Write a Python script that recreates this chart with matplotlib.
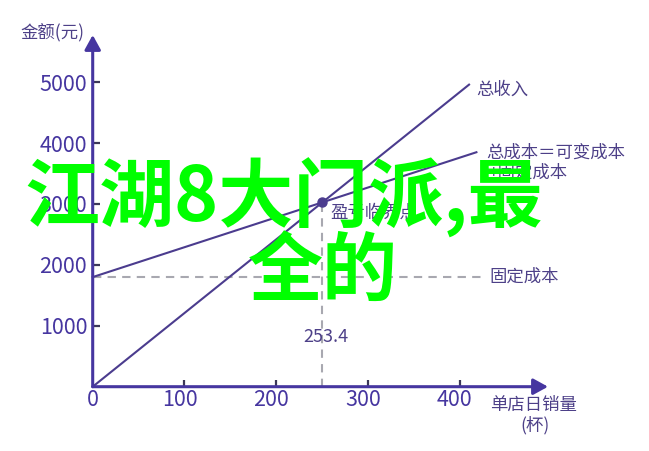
import matplotlib
matplotlib.use('Agg')
import matplotlib.pyplot as plt
import matplotlib.transforms as mtransforms

plt.rcParams['font.family'] = ['Noto Sans CJK SC', 'DejaVu Sans']

# chart values
revenue_x = [0, 410]
revenue_y = [0, 4960]
cost_x = [0, 418]
cost_y = [1800, 3850]
fixed_x = [0, 424]
fixed_y = [1800, 1800]
breakeven_x = 250
breakeven_y = 3027
breakeven_label = '253.4'
x_ticks = [0, 100, 200, 300, 400]
y_ticks = [1000, 2000, 3000, 4000, 5000]
x_max = 496
y_max = 5775

axis_color = '#4636a0'
line_color = '#4b3c8e'
text_color = '#4d4088'
dash_color = '#a8a8b0'

fig = plt.figure(figsize=(6.49, 4.51), dpi=100)
W, H = 649, 451
ax = fig.add_axes([92.7 / W, (H - 386.7) / H, (548 - 92.7) / W, (386.7 - 35) / H])
ax.set_xlim(0, x_max)
ax.set_ylim(0, y_max)
for s in ax.spines.values():
    s.set_visible(False)

# axes with arrow heads
arrow = dict(arrowstyle='-|>,head_length=0.4,head_width=0.22', color=axis_color,
             lw=2.2, mutation_scale=22, shrinkA=0, shrinkB=0)
ax.annotate('', xy=(1, 0), xytext=(0, 0), xycoords='axes fraction', arrowprops=arrow)
ax.annotate('', xy=(0, 1), xytext=(0, 0), xycoords='axes fraction', arrowprops=arrow)

ax.set_xticks(x_ticks)
ax.set_xticklabels([str(t) for t in x_ticks])
ax.set_yticks(y_ticks)
ax.set_yticklabels([str(t) for t in y_ticks])
ax.tick_params(direction='in', length=5, width=1.6, color='#3c3858',
               labelsize=15.5, labelcolor=axis_color, pad=4)
ax.tick_params(axis='x', pad=2)
# x tick labels sit a little left of their ticks, except 0
shift = mtransforms.ScaledTranslation(-5 / 100, 0, fig.dpi_scale_trans)
for lab in ax.get_xticklabels()[1:]:
    lab.set_transform(lab.get_transform() + shift)
for tk in ax.xaxis.get_major_ticks()[:1]:
    tk.tick1line.set_visible(False)

# lines
ax.plot(fixed_x, fixed_y, color=dash_color, lw=1.5, dashes=(4, 3), clip_on=False)
ax.plot([breakeven_x, breakeven_x], [0, breakeven_y], color=dash_color, lw=1.5,
        dashes=(4, 3), clip_on=False)
ax.plot(revenue_x, revenue_y, color=line_color, lw=1.5, clip_on=False)
ax.plot(cost_x, cost_y, color=line_color, lw=1.5, clip_on=False)
ax.plot(breakeven_x, breakeven_y, 'o', color=line_color, ms=6.5, clip_on=False)

def px(x, y):
    return x / W, 1 - y / H

fs = 12.5
fig.text(*px(20, 33), '金额(元)', fontsize=fs, color=text_color, ha='left', va='center')
fig.text(*px(476, 90), '总收入', fontsize=fs, color=text_color, ha='left', va='center')
fig.text(*px(486, 153), '总成本＝可变成本', fontsize=fs, color=text_color, ha='left', va='center')
fig.text(*px(488, 173), '+固定成本', fontsize=fs, color=text_color, ha='left', va='center')
fig.text(*px(489, 277), '固定成本', fontsize=fs, color=text_color, ha='left', va='center')
fig.text(*px(330, 213), '盈亏临界点', fontsize=fs, color=text_color, ha='left', va='center')
fig.text(*px(326, 337), breakeven_label, fontsize=13, color=text_color, ha='center', va='center')
fig.text(*px(533, 405), '单店日销量', fontsize=fs, color=text_color, ha='center', va='center')
fig.text(*px(535, 425), '(杯)', fontsize=fs, color=text_color, ha='center', va='center')

# overlay title
fig.text(*px(24, 198), '江湖8大门派,最', fontsize=54, color='#00ff00', fontweight='bold',
         ha='left', va='center', zorder=10)
fig.text(*px(248, 273), '全的', fontsize=54, color='#00ff00', fontweight='bold',
         ha='left', va='center', zorder=10)

fig.savefig('out.png', dpi=100, facecolor='white')
